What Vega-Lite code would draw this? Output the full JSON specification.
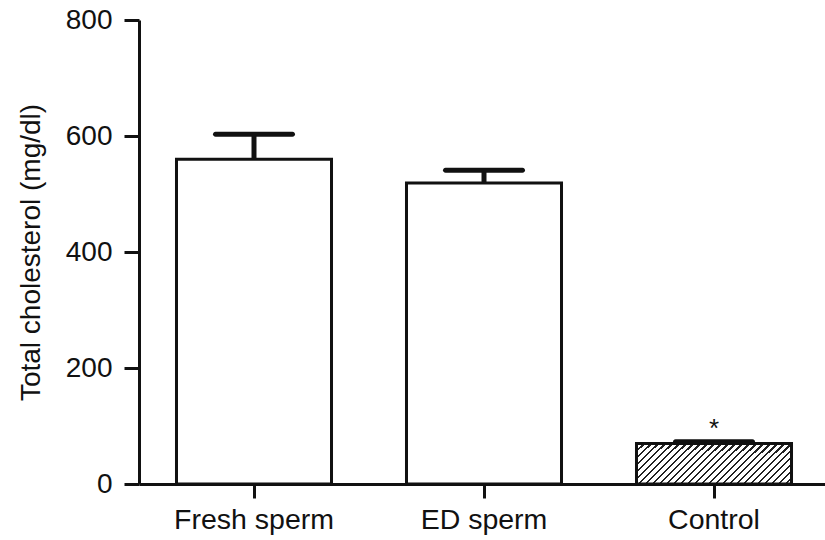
{
  "$schema": "https://vega.github.io/schema/vega-lite/v6.json",
  "autosize": "none",
  "width": 690,
  "height": 464,
  "padding": {"left": 139, "top": 20, "right": 0, "bottom": 56},
  "background": "white",
  "config": {
    "view": {"stroke": null},
    "font": "Liberation Sans",
    "axis": {"grid": false, "domainColor": "#111", "tickColor": "#111", "labelColor": "#111", "titleColor": "#111", "domainWidth": 3, "tickWidth": 3, "labelFont": "Liberation Sans", "titleFont": "Liberation Sans"}
  },
  "data": {
    "values": [
      {"group": "Fresh sperm", "value": 560, "err": 43, "top": 603, "mark": ""},
      {"group": "ED sperm", "value": 519, "err": 22, "top": 541, "mark": ""},
      {"group": "Control", "value": 70, "err": 3, "top": 73, "mark": "*"}
    ]
  },
  "encoding": {
    "x": {
      "field": "group", "type": "nominal", "sort": null,
      "scale": {"paddingInner": 0.326, "paddingOuter": 0.163},
      "axis": {"title": null, "labelAngle": 0, "labelFontSize": 28.5, "tickSize": 14, "labelPadding": 7}
    }
  },
  "layer": [
    {
      "transform": [{"filter": "datum.group !== 'Control'"}],
      "mark": {"type": "bar", "fill": "white", "stroke": "#111", "strokeWidth": 3},
      "encoding": {
        "y": {"field": "value", "type": "quantitative",
          "scale": {"domain": [0, 800]},
          "axis": {"values": [0, 200, 400, 600, 800], "title": "Total cholesterol (mg/dl)", "titleFontSize": 28, "titleFontWeight": "normal", "labelFontSize": 28, "tickSize": 15, "labelPadding": 12, "titlePadding": 20}}
      }
    },
    {
      "transform": [{"filter": "datum.group === 'Control'"}],
      "mark": {"type": "bar", "stroke": "#111", "strokeWidth": 3,
        "fill": {"gradient": "linear", "x1": 0, "y1": 0, "x2": 1.182, "y2": 0.313,
          "stops": [
            {"offset": 0, "color": "#222"}, {"offset": 0.011, "color": "#222"}, {"offset": 0.011, "color": "white"}, {"offset": 0.0357, "color": "white"},
            {"offset": 0.0357, "color": "#222"}, {"offset": 0.0467, "color": "#222"}, {"offset": 0.0467, "color": "white"}, {"offset": 0.0714, "color": "white"},
            {"offset": 0.0714, "color": "#222"}, {"offset": 0.0824, "color": "#222"}, {"offset": 0.0824, "color": "white"}, {"offset": 0.1071, "color": "white"},
            {"offset": 0.1071, "color": "#222"}, {"offset": 0.1181, "color": "#222"}, {"offset": 0.1181, "color": "white"}, {"offset": 0.1429, "color": "white"},
            {"offset": 0.1429, "color": "#222"}, {"offset": 0.1539, "color": "#222"}, {"offset": 0.1539, "color": "white"}, {"offset": 0.1786, "color": "white"},
            {"offset": 0.1786, "color": "#222"}, {"offset": 0.1896, "color": "#222"}, {"offset": 0.1896, "color": "white"}, {"offset": 0.2143, "color": "white"},
            {"offset": 0.2143, "color": "#222"}, {"offset": 0.2253, "color": "#222"}, {"offset": 0.2253, "color": "white"}, {"offset": 0.25, "color": "white"},
            {"offset": 0.25, "color": "#222"}, {"offset": 0.261, "color": "#222"}, {"offset": 0.261, "color": "white"}, {"offset": 0.2857, "color": "white"},
            {"offset": 0.2857, "color": "#222"}, {"offset": 0.2967, "color": "#222"}, {"offset": 0.2967, "color": "white"}, {"offset": 0.3214, "color": "white"},
            {"offset": 0.3214, "color": "#222"}, {"offset": 0.3324, "color": "#222"}, {"offset": 0.3324, "color": "white"}, {"offset": 0.3571, "color": "white"},
            {"offset": 0.3571, "color": "#222"}, {"offset": 0.3681, "color": "#222"}, {"offset": 0.3681, "color": "white"}, {"offset": 0.3929, "color": "white"},
            {"offset": 0.3929, "color": "#222"}, {"offset": 0.4039, "color": "#222"}, {"offset": 0.4039, "color": "white"}, {"offset": 0.4286, "color": "white"},
            {"offset": 0.4286, "color": "#222"}, {"offset": 0.4396, "color": "#222"}, {"offset": 0.4396, "color": "white"}, {"offset": 0.4643, "color": "white"},
            {"offset": 0.4643, "color": "#222"}, {"offset": 0.4753, "color": "#222"}, {"offset": 0.4753, "color": "white"}, {"offset": 0.5, "color": "white"},
            {"offset": 0.5, "color": "#222"}, {"offset": 0.511, "color": "#222"}, {"offset": 0.511, "color": "white"}, {"offset": 0.5357, "color": "white"},
            {"offset": 0.5357, "color": "#222"}, {"offset": 0.5467, "color": "#222"}, {"offset": 0.5467, "color": "white"}, {"offset": 0.5714, "color": "white"},
            {"offset": 0.5714, "color": "#222"}, {"offset": 0.5824, "color": "#222"}, {"offset": 0.5824, "color": "white"}, {"offset": 0.6071, "color": "white"},
            {"offset": 0.6071, "color": "#222"}, {"offset": 0.6181, "color": "#222"}, {"offset": 0.6181, "color": "white"}, {"offset": 0.6429, "color": "white"},
            {"offset": 0.6429, "color": "#222"}, {"offset": 0.6539, "color": "#222"}, {"offset": 0.6539, "color": "white"}, {"offset": 0.6786, "color": "white"},
            {"offset": 0.6786, "color": "#222"}, {"offset": 0.6896, "color": "#222"}, {"offset": 0.6896, "color": "white"}, {"offset": 0.7143, "color": "white"},
            {"offset": 0.7143, "color": "#222"}, {"offset": 0.7253, "color": "#222"}, {"offset": 0.7253, "color": "white"}, {"offset": 0.75, "color": "white"},
            {"offset": 0.75, "color": "#222"}, {"offset": 0.761, "color": "#222"}, {"offset": 0.761, "color": "white"}, {"offset": 0.7857, "color": "white"},
            {"offset": 0.7857, "color": "#222"}, {"offset": 0.7967, "color": "#222"}, {"offset": 0.7967, "color": "white"}, {"offset": 0.8214, "color": "white"},
            {"offset": 0.8214, "color": "#222"}, {"offset": 0.8324, "color": "#222"}, {"offset": 0.8324, "color": "white"}, {"offset": 0.8571, "color": "white"},
            {"offset": 0.8571, "color": "#222"}, {"offset": 0.8681, "color": "#222"}, {"offset": 0.8681, "color": "white"}, {"offset": 0.8929, "color": "white"},
            {"offset": 0.8929, "color": "#222"}, {"offset": 0.9039, "color": "#222"}, {"offset": 0.9039, "color": "white"}, {"offset": 0.9286, "color": "white"},
            {"offset": 0.9286, "color": "#222"}, {"offset": 0.9396, "color": "#222"}, {"offset": 0.9396, "color": "white"}, {"offset": 0.9643, "color": "white"},
            {"offset": 0.9643, "color": "#222"}, {"offset": 0.9753, "color": "#222"}, {"offset": 0.9753, "color": "white"}, {"offset": 1, "color": "white"}
          ]}},
      "encoding": {
        "y": {"field": "value", "type": "quantitative"}
      }
    },
    {
      "mark": {"type": "rule", "color": "#111", "strokeWidth": 5},
      "encoding": {
        "y": {"field": "value", "type": "quantitative"},
        "y2": {"field": "top"}
      }
    },
    {
      "mark": {"type": "tick", "color": "#111", "size": 82, "thickness": 5, "opacity": 1, "cornerRadius": 2.5},
      "encoding": {
        "y": {"field": "top", "type": "quantitative"}
      }
    },
    {
      "mark": {"type": "text", "fontSize": 26, "color": "#111", "baseline": "bottom", "dy": 0},
      "encoding": {
        "y": {"field": "top", "type": "quantitative"},
        "text": {"field": "mark"}
      }
    }
  ]
}
